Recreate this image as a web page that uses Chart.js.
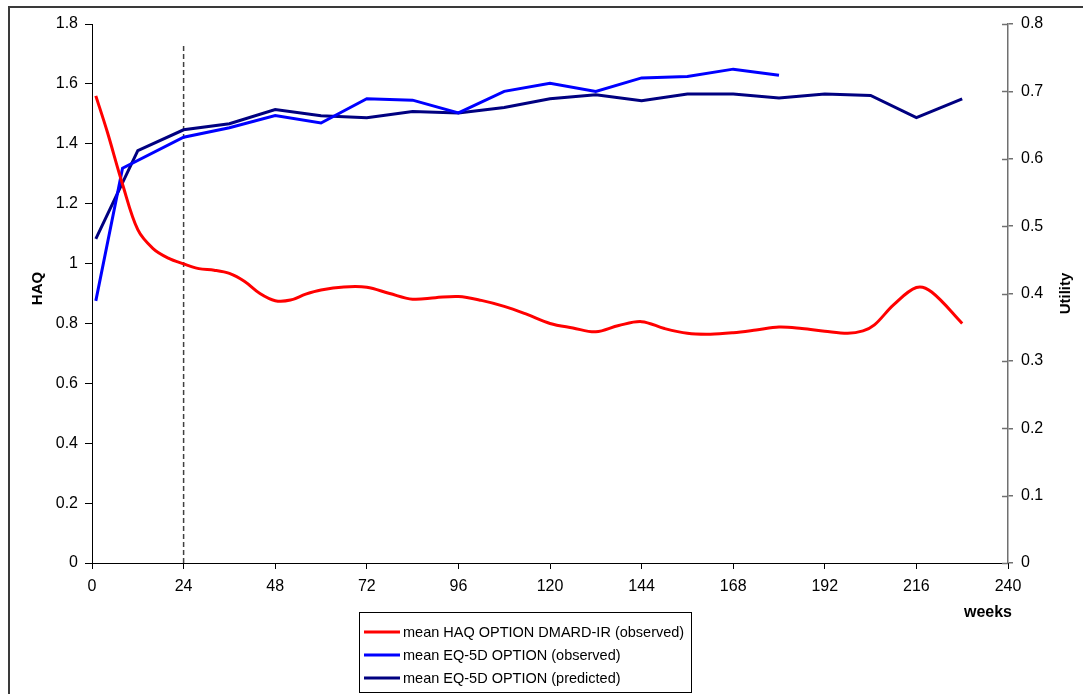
<!DOCTYPE html>
<html>
<head>
<meta charset="utf-8">
<script src="https://cdn.jsdelivr.net/npm/chart.js@4/dist/chart.umd.min.js"></script>
<style>
  html, body { margin: 0; padding: 0; background: #fff; }
  #wrap { width: 1083px; height: 694px; }
</style>
</head>
<body>
<div id="wrap"><canvas id="c" width="1083" height="694"></canvas></div>
<script>
// Mean HAQ (observed), left axis
const haqWeeks = [1, 4, 8, 12, 16, 20, 24, 28, 32, 36, 40, 44, 48, 52, 56, 60, 66, 72, 78, 84, 90, 96, 102, 108, 114, 120, 126, 132, 138, 144, 150, 156, 162, 168, 174, 180, 186, 192, 198, 202, 205, 210, 216, 220, 228];
const haqValues = [1.56, 1.44, 1.265, 1.113, 1.05, 1.018, 0.999, 0.983, 0.978, 0.967, 0.94, 0.90, 0.876, 0.878, 0.898, 0.912, 0.922, 0.921, 0.90, 0.881, 0.886, 0.89, 0.877, 0.857, 0.83, 0.80, 0.785, 0.772, 0.793, 0.806, 0.783, 0.767, 0.764, 0.769, 0.778, 0.788, 0.783, 0.774, 0.767, 0.775, 0.795, 0.862, 0.92, 0.905, 0.80];

// Mean EQ-5D (observed), right axis
const eqObsWeeks = [1, 8, 24, 36, 48, 60, 72, 84, 96, 108, 120, 132, 144, 156, 168, 180];
const eqObsValues = [0.389, 0.586, 0.632, 0.646, 0.664, 0.653, 0.689, 0.687, 0.668, 0.700, 0.712, 0.700, 0.720, 0.722, 0.733, 0.724];

// Mean EQ-5D (predicted), right axis
const eqPredWeeks = [1, 12, 24, 36, 48, 60, 72, 84, 96, 108, 120, 132, 144, 156, 168, 180, 192, 204, 216, 228];
const eqPredValues = [0.481, 0.612, 0.643, 0.652, 0.673, 0.664, 0.661, 0.670, 0.668, 0.676, 0.689, 0.695, 0.686, 0.696, 0.696, 0.690, 0.696, 0.694, 0.661, 0.689];

// Marker at week 24
const markerWeek = 24;
const markerTop = 1.73;

const seriesLabels = [
  'mean HAQ OPTION DMARD-IR (observed)',
  'mean EQ-5D OPTION (observed)',
  'mean EQ-5D OPTION (predicted)'
];

const xTicks = [0, 24, 48, 72, 96, 120, 144, 168, 192, 216, 240];

const FONT = '"Liberation Sans", Arial, sans-serif';

const toPoints = (xs, ys) => xs.map((x, i) => ({ x: x, y: ys[i] }));
const plainNumber = v => String(+Number(v).toFixed(1));

// Axis titles, outer frame, inward right ticks and the boxed legend
const decorations = {
  id: 'decorations',
  afterDraw(chart) {
    const ctx = chart.ctx;
    const area = chart.chartArea;
    const yR = chart.scales.yR;
    ctx.save();

    // outer frame (left and top edges)
    ctx.strokeStyle = '#3a3a3a';
    ctx.lineWidth = 2;
    ctx.beginPath();
    ctx.moveTo(9, 694);
    ctx.lineTo(9, 7);
    ctx.lineTo(1083, 7);
    ctx.stroke();

    // inward halves of the right-axis ticks
    ctx.strokeStyle = '#707070';
    ctx.lineWidth = 1.5;
    yR.ticks.forEach(t => {
      const py = Math.round(yR.getPixelForValue(t.value)) + 0.5;
      ctx.beginPath();
      ctx.moveTo(area.right - 6, py);
      ctx.lineTo(area.right, py);
      ctx.stroke();
    });

    // axis titles
    const midY = (area.top + area.bottom) / 2;
    ctx.fillStyle = '#000';
    ctx.textAlign = 'center';
    ctx.textBaseline = 'middle';
    ctx.font = 'bold 15px ' + FONT;
    ctx.save();
    ctx.translate(38, midY - 5);
    ctx.rotate(-Math.PI / 2);
    ctx.fillText('HAQ', 0, 0);
    ctx.restore();
    ctx.save();
    ctx.translate(1066, midY);
    ctx.rotate(-Math.PI / 2);
    ctx.fillText('Utility', 0, 0);
    ctx.restore();
    ctx.font = 'bold 16px ' + FONT;
    ctx.textAlign = 'right';
    ctx.fillText('weeks', 1012, 613);

    // legend box
    const lx = 359.5, ly = 612.5, lw = 332, lh = 80;
    ctx.strokeStyle = '#000';
    ctx.lineWidth = 1;
    ctx.strokeRect(lx, ly, lw, lh);
    ctx.font = '14.5px ' + FONT;
    ctx.textAlign = 'left';
    const rowY = [632, 655, 678];
    seriesLabels.forEach((label, i) => {
      const ds = chart.data.datasets[i];
      ctx.strokeStyle = ds.borderColor;
      ctx.lineWidth = 3;
      ctx.beginPath();
      ctx.moveTo(364, rowY[i]);
      ctx.lineTo(400, rowY[i]);
      ctx.stroke();
      ctx.fillStyle = '#000';
      ctx.fillText(label, 403, rowY[i] + 1);
    });
    ctx.restore();
  }
};

new Chart(document.getElementById('c'), {
  type: 'line',
  data: {
    datasets: [
      {
        label: seriesLabels[0],
        data: toPoints(haqWeeks, haqValues),
        yAxisID: 'y',
        borderColor: '#ff0000',
        borderWidth: 3,
        pointRadius: 0,
        tension: 0.35,
        fill: false
      },
      {
        label: seriesLabels[1],
        data: toPoints(eqObsWeeks, eqObsValues),
        yAxisID: 'yR',
        borderColor: '#0000ff',
        borderWidth: 3,
        pointRadius: 0,
        tension: 0,
        fill: false
      },
      {
        label: seriesLabels[2],
        data: toPoints(eqPredWeeks, eqPredValues),
        yAxisID: 'yR',
        borderColor: '#000080',
        borderWidth: 3,
        pointRadius: 0,
        tension: 0,
        fill: false
      },
      {
        label: 'week 24',
        data: [{ x: markerWeek, y: 0 }, { x: markerWeek, y: markerTop }],
        yAxisID: 'y',
        borderColor: '#404040',
        borderWidth: 1.5,
        borderDash: [5, 3],
        pointRadius: 0,
        fill: false
      }
    ]
  },
  options: {
    responsive: false,
    animation: false,
    devicePixelRatio: 1,
    layout: { autoPadding: false, padding: { top: 24, left: 0, right: 0, bottom: 0 } },
    plugins: {
      legend: { display: false },
      tooltip: { enabled: false }
    },
    scales: {
      x: {
        type: 'linear',
        min: 0,
        max: 240,
        afterFit: s => { s.height = 131; },
        afterBuildTicks: s => { s.ticks = xTicks.map(v => ({ value: v })); },
        border: { display: true, color: '#000', width: 1 },
        grid: { drawOnChartArea: false, drawTicks: true, tickLength: 6, color: '#000' },
        ticks: { color: '#000', font: { family: FONT, size: 16 }, padding: 8, maxRotation: 0 }
      },
      y: {
        position: 'left',
        min: 0,
        max: 1.8,
        afterFit: s => { s.width = 92; },
        border: { display: true, color: '#000', width: 1 },
        grid: { drawOnChartArea: false, drawTicks: true, tickLength: 7, color: '#000' },
        ticks: { stepSize: 0.2, color: '#000', font: { family: FONT, size: 16 }, padding: 7, callback: plainNumber }
      },
      yR: {
        position: 'right',
        min: 0,
        max: 0.8,
        afterFit: s => { s.width = 75; },
        border: { display: true, color: '#707070', width: 1.5 },
        grid: { drawOnChartArea: false, drawTicks: true, tickLength: 5, color: '#707070', lineWidth: 1.5 },
        ticks: { stepSize: 0.1, color: '#000', font: { family: FONT, size: 16 }, padding: 8, callback: plainNumber }
      }
    }
  },
  plugins: [decorations]
});
</script>
</body>
</html>
